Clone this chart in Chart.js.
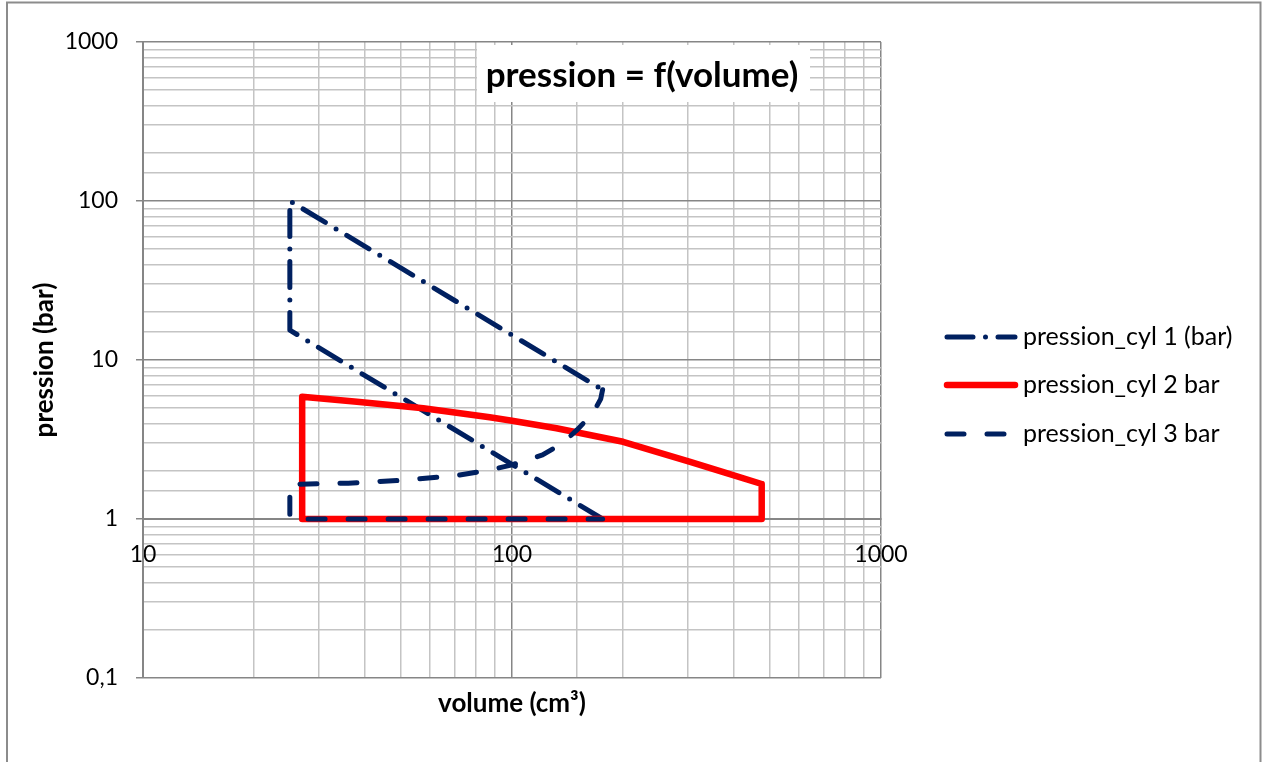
<!DOCTYPE html>
<html lang="fr">
<head>
<meta charset="utf-8">
<title>pression = f(volume)</title>
<script src="https://cdn.jsdelivr.net/npm/chart.js@4.4.1/dist/chart.umd.min.js"></script>
<style>
    html, body { margin: 0; padding: 0; background: #fff; overflow: hidden; }
    .frame { position: relative; width: 1262px; height: 762px; }
</style>
</head>
<body>
<div class="frame"><canvas id="chart" width="1262" height="762"></canvas></div>
<script>
    // values (volume in cm³, pressure in bar)
    const cyl1Volume = [176, 25, 25, 176];
    const cyl1Pressure = [1, 15.4, 100, 6.5];

    const cyl2Volume = [27, 27, 38, 57.5, 87, 100, 132, 200, 304, 374, 475, 475, 27];
    const cyl2Pressure = [1, 5.88, 5.47, 4.97, 4.36, 4.15, 3.72, 3.06, 2.29, 1.97, 1.66, 1, 1];

    const cyl3Volume = [176, 174, 166, 150, 137, 121, 100, 87, 72, 52, 36, 25, 25, 176];
    const cyl3Pressure = [6.5, 5.7, 4.65, 3.63, 3.0, 2.53, 2.19, 2.03, 1.89, 1.76, 1.68, 1.65, 1, 1];

    const seriesNames = ["pression_cyl 1 (bar)", "pression_cyl 2 bar", "pression_cyl 3 bar"];

    const volumeTicks = [10, 100, 1000];
    const volumeTickLabels = ["10", "100", "1000"];
    const pressureTicks = [0.1, 1, 10, 100, 1000];
    const pressureTickLabels = ["0,1", "1", "10", "100", "1000"];

    const fontFamily = "Lato, 'Open Sans', sans-serif";
    const navy = "#002060";
    const red = "#ff0000";
    const majorGrid = "#868686";
    const minorGrid = "#c4c4c4";

    function points(xs, ys) {
        return xs.map((x, i) => ({ x, y: ys[i] }));
    }

    function isDecade(value) {
        const l = Math.log10(value);
        return Math.abs(l - Math.round(l)) < 1e-6;
    }

    function tickLabel(value, ticks, labels) {
        const index = ticks.findIndex(t => Math.abs(t - value) / t < 1e-6);
        return index >= 0 ? labels[index] : "";
    }

    function gridColor(ctx) {
        return ctx.tick && isDecade(ctx.tick.value) ? majorGrid : minorGrid;
    }

    const framePlugin = {
        id: "frame",
        beforeDraw(chart) {
            const ctx = chart.ctx;
            ctx.save();
            ctx.strokeStyle = "#8c8c8c";
            ctx.lineWidth = 2;
            ctx.strokeRect(7, 2.5, 1253.5, 900);
            ctx.restore();
        }
    };

    const titlePlugin = {
        id: "boxTitle",
        afterDraw(chart) {
            const ctx = chart.ctx;
            ctx.save();
            ctx.fillStyle = "#fff";
            ctx.fillRect(477, 45, 333, 57);
            ctx.fillStyle = "#000";
            ctx.font = `bold 35px ${fontFamily}`;
            ctx.textAlign = "center";
            ctx.textBaseline = "alphabetic";
            ctx.fillText("pression = f(volume)", 642, 87);
            ctx.restore();
        }
    };

    const legendPlugin = {
        id: "sideLegend",
        afterDraw(chart) {
            const ctx = chart.ctx;
            const rows = [337, 385, 434];
            ctx.save();
            chart.data.datasets.forEach((dataset, i) => {
                const y = rows[i];
                ctx.beginPath();
                ctx.strokeStyle = dataset.borderColor;
                ctx.lineWidth = dataset.borderWidth;
                ctx.lineCap = "round";
                ctx.setLineDash(dataset.borderDash || []);
                ctx.moveTo(947, y);
                ctx.lineTo(1015, y);
                ctx.stroke();
                ctx.setLineDash([]);
                ctx.fillStyle = "#000";
                ctx.font = `25px ${fontFamily}`;
                ctx.textAlign = "left";
                ctx.textBaseline = "middle";
                ctx.fillText(dataset.label, 1023, y);
            });
            ctx.restore();
        }
    };

    new Chart(document.getElementById("chart"), {
        type: "scatter",
        data: {
            datasets: [
                {
                    label: seriesNames[0],
                    data: points(cyl1Volume, cyl1Pressure),
                    borderColor: navy,
                    borderWidth: 5,
                    borderDash: [26, 12.5, 0, 12.5],
                    order: 3
                },
                {
                    label: seriesNames[1],
                    data: points(cyl2Volume, cyl2Pressure),
                    borderColor: red,
                    borderWidth: 6.5,
                    order: 2
                },
                {
                    label: seriesNames[2],
                    data: points(cyl3Volume, cyl3Pressure),
                    borderColor: navy,
                    borderWidth: 5,
                    borderDash: [17, 23],
                    order: 1
                }
            ].map(d => ({
                ...d,
                showLine: true,
                fill: false,
                pointRadius: 0,
                pointHoverRadius: 0,
                borderCapStyle: "round",
                borderJoinStyle: "round",
                tension: 0
            }))
        },
        options: {
            responsive: false,
            animation: false,
            events: [],
            layout: { padding: { left: 0, right: 381, top: 42, bottom: 84 } },
            plugins: {
                legend: { display: false },
                tooltip: { enabled: false },
                title: { display: false }
            },
            scales: {
                x: {
                    type: "logarithmic",
                    min: 10,
                    max: 1000,
                    position: { y: 1 },
                    grid: { color: gridColor, lineWidth: 1.5, drawTicks: false },
                    border: { color: majorGrid, width: 2 },
                    ticks: {
                        autoSkip: false,
                        maxRotation: 0,
                        padding: 22,
                        color: "#000",
                        font: { family: fontFamily, size: 23 },
                        callback: value => tickLabel(value, volumeTicks, volumeTickLabels)
                    },
                    title: {
                        display: true,
                        text: "volume (cm³)",
                        color: "#000",
                        font: { family: fontFamily, size: 26, weight: "bold" },
                        padding: { top: 97, bottom: 0 }
                    }
                },
                y: {
                    type: "logarithmic",
                    min: 0.1,
                    max: 1000,
                    afterFit: scale => { scale.width = 143; },
                    grid: {
                        color: gridColor,
                        lineWidth: 1.5,
                        tickLength: 7,
                        tickColor: ctx => ctx.tick && isDecade(ctx.tick.value) ? majorGrid : "rgba(0,0,0,0)"
                    },
                    border: { color: majorGrid, width: 2 },
                    ticks: {
                        autoSkip: false,
                        padding: 18,
                        color: "#000",
                        font: { family: fontFamily, size: 23 },
                        callback: value => tickLabel(value, pressureTicks, pressureTickLabels)
                    },
                    title: {
                        display: true,
                        text: "pression (bar)",
                        color: "#000",
                        font: { family: fontFamily, size: 26, weight: "bold" },
                        padding: { top: 29, bottom: 0 }
                    }
                }
            }
        },
        plugins: [framePlugin, titlePlugin, legendPlugin]
    });
</script>
</body>
</html>
